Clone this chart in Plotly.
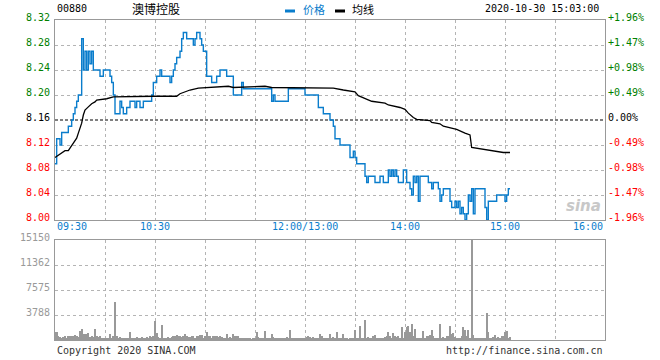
import plotly.graph_objects as go

# ---------------- data ----------------
# x = trading minute counted from 09:30 (lunch break removed, 13:00 = 150)
time_ticks = [0, 60, 150, 210, 270, 330]
time_labels = ["09:30", "10:30", "12:00/13:00", "14:00", "15:00", "16:00"]

prev_close = 8.16
price_ticks = [8.32, 8.28, 8.24, 8.20, 8.16, 8.12, 8.08, 8.04, 8.00]
vol_ticks = [15150, 11362, 7575, 3788]

# price (change points, minute -> price)
price_min = [0, 1, 3, 4, 8, 10, 11, 12, 13, 14, 16, 17, 18, 19, 20, 21, 22, 23, 27, 29,
             33, 34, 35, 36, 39, 40, 41, 43, 45, 48, 49, 51, 53, 58, 59, 61, 63, 64, 69, 70,
             71, 72, 73, 75, 76, 77, 79, 83, 84, 85, 87, 88, 89, 91, 94, 97, 99, 103, 107, 112,
             113, 130, 131, 132, 140, 150, 158, 161, 165, 167, 168, 171, 177, 179, 180, 181, 186, 187, 188, 192,
             195, 197, 200, 201, 202, 203, 204, 205, 206, 209, 211, 213, 214, 215, 216, 217, 218, 219, 224, 226,
             227, 230, 231, 232, 233, 237, 238, 240, 241, 242, 243, 244, 245, 246, 247, 248, 249, 250, 251, 252,
             258, 259, 260, 265, 270, 271, 272, 273]
price_val = [8.09, 8.13, 8.12, 8.14, 8.15, 8.16, 8.17, 8.18, 8.19, 8.20, 8.29, 8.24, 8.27, 8.24, 8.27, 8.25, 8.27, 8.24, 8.23, 8.24,
             8.23, 8.22, 8.20, 8.17, 8.19, 8.18, 8.17, 8.18, 8.19, 8.18, 8.19, 8.18, 8.19, 8.20, 8.22, 8.23, 8.24, 8.23, 8.22, 8.23,
             8.24, 8.25, 8.26, 8.27, 8.29, 8.30, 8.29, 8.28, 8.29, 8.30, 8.29, 8.28, 8.27, 8.23, 8.22, 8.23, 8.24, 8.23, 8.20, 8.22,
             8.21, 8.19, 8.20, 8.19, 8.21, 8.20, 8.18, 8.17, 8.16, 8.15, 8.13, 8.12, 8.10, 8.11, 8.10, 8.09, 8.07, 8.06, 8.07, 8.06,
             8.07, 8.06, 8.08, 8.07, 8.08, 8.07, 8.08, 8.07, 8.06, 8.08, 8.06, 8.05, 8.04, 8.07, 8.06, 8.07, 8.03, 8.07, 8.06, 8.05,
             8.06, 8.05, 8.03, 8.04, 8.05, 8.03, 8.02, 8.03, 8.02, 8.03, 8.01, 8.02, 8.01, 8.00, 8.01, 8.04, 8.03, 8.05, 8.01, 8.05,
             8.02, 8.00, 8.03, 8.04, 8.03, 8.04, 8.05, 8.05]

# average price line (minute -> value)
avg_min = [0, 2, 4, 6, 8, 9, 11, 13, 14, 16, 17, 18, 20, 22, 24, 25, 31, 35, 59, 73,
           75, 78, 81, 86, 91, 104, 107, 126, 130, 166, 167, 173, 180, 182, 186, 190, 198, 200, 207, 210,
           212, 215, 217, 225, 226, 231, 233, 239, 241, 246, 249, 250, 259, 269, 273]
avg_val = [8.100, 8.104, 8.108, 8.111, 8.111, 8.115, 8.122, 8.131, 8.139, 8.155, 8.168, 8.176, 8.181, 8.186, 8.189, 8.192, 8.194, 8.197, 8.198, 8.198,
           8.202, 8.205, 8.208, 8.211, 8.212, 8.214, 8.212, 8.214, 8.212, 8.212, 8.211, 8.208, 8.205, 8.199, 8.194, 8.190, 8.187, 8.184, 8.180, 8.177,
           8.171, 8.164, 8.161, 8.159, 8.156, 8.154, 8.150, 8.147, 8.145, 8.139, 8.136, 8.116, 8.112, 8.108, 8.108]

# volume per minute (minute 0 .. 273)
volume = [1200, 1160, 660, 450, 300, 450, 560, 300, 560, 660,
          560, 560, 810, 660, 500, 1410, 1720, 910, 960, 910,
          1060, 450, 560, 450, 1720, 560, 450, 560, 300, 300,
          300, 300, 300, 960, 300, 560, 5700, 560, 300, 450,
          300, 300, 300, 250, 300, 1160, 300, 250, 300, 450,
          300, 250, 450, 250, 300, 450, 250, 560, 450, 660,
          2830, 1060, 450, 350, 2300, 300, 300, 350, 450, 250,
          450, 660, 560, 710, 560, 660, 450, 560, 960, 660,
          450, 450, 560, 560, 300, 660, 660, 810, 810, 300,
          660, 1160, 560, 660, 250, 560, 660, 560, 450, 560,
          400, 300, 250, 960, 300, 450, 250, 960, 660, 660,
          560, 300, 300, 300, 250, 300, 250, 300, 150, 250,
          200, 1160, 450, 200, 200, 250, 1310, 300, 200, 250,
          960, 450, 300, 300, 250, 300, 300, 250, 300, 400,
          300, 1565, 300, 300, 250, 300, 250, 300, 300, 250,
          300, 450, 660, 450, 250, 450, 250, 300, 250, 960,
          560, 250, 300, 250, 300, 960, 300, 450, 300, 1160,
          300, 300, 250, 960, 300, 250, 150, 300, 250, 300,
          1565, 250, 300, 2070, 300, 250, 2980, 250, 450, 300,
          250, 560, 810, 250, 250, 300, 300, 300, 450, 560,
          1160, 560, 300, 1060, 660, 450, 660, 300, 1920, 300,
          1160, 1970, 2070, 1160, 2470, 660, 1720, 300, 300, 300,
          250, 1310, 300, 660, 560, 810, 1465, 560, 300, 300,
          250, 2470, 300, 450, 300, 660, 660, 2070, 960, 1060,
          450, 300, 300, 300, 560, 1970, 1565, 560, 1465, 300,
          15150, 810, 300, 300, 300, 300, 300, 200, 200, 4090,
          1160, 300, 250, 450, 810, 300, 450, 300, 560, 660,
          1160, 1310, 250, 450]
vol_min = list(range(len(volume)))

# ---------------- style ----------------
BLUE = "#0a7dcc"
GREEN = "#008000"
RED = "#ff0000"
GRID = "#b4b4b4"
BORDER = "#999999"
MONO = "DejaVu Sans Mono"
W, H = 660, 360
L, R, T, B = 55, 55, 20, 20


def py(pix):  # pixel y -> paper y
    return (H - B - pix) / (H - T - B)


def px(pix):  # pixel x -> paper x
    return (pix - L) / (W - L - R)


fig = go.Figure()
fig.add_trace(go.Scatter(x=price_min, y=price_val, mode="lines",
                         line=dict(color=BLUE, width=1.4, shape="hv"),
                         xaxis="x", yaxis="y", hoverinfo="skip"))
fig.add_trace(go.Scatter(x=avg_min, y=avg_val, mode="lines",
                         line=dict(color="#000000", width=1.3),
                         xaxis="x", yaxis="y", hoverinfo="skip"))
fig.add_trace(go.Bar(x=vol_min, y=volume, width=0.6,
                     marker=dict(color="#999999", line=dict(width=0)),
                     xaxis="x2", yaxis="y2", hoverinfo="skip"))

axis_common = dict(showline=True, mirror=True, linecolor=BORDER, linewidth=1,
                   showgrid=True, gridcolor=GRID, griddash="dot", gridwidth=1,
                   zeroline=False, ticks="", showticklabels=False, fixedrange=True)

grid_x = list(range(30, 330, 30))
fig.update_layout(
    width=W, height=H,
    margin=dict(l=L, r=R, t=T, b=B),
    paper_bgcolor="white", plot_bgcolor="white",
    showlegend=False, bargap=0,
    xaxis=dict(domain=[0, 1], range=[0, 330], anchor="y", tickvals=grid_x, **axis_common),
    yaxis=dict(domain=[py(220), 1], range=[8.00, 8.32], anchor="x",
               tickvals=[t for t in price_ticks if t not in (8.32, 8.16, 8.00)], **axis_common),
    xaxis2=dict(domain=[0, 1], range=[0, 330], anchor="y2", tickvals=grid_x, **axis_common),
    yaxis2=dict(domain=[0, py(240)], range=[0, 15150], anchor="x2",
                tickvals=vol_ticks[1:], **axis_common),
)

# prev close dashed line
fig.add_shape(type="line", xref="x", yref="y", x0=0, x1=330, y0=prev_close, y1=prev_close,
              line=dict(color="#000000", width=1.2, dash="3px,2px"), layer="below")

ann = []
# left price labels and right percent labels
for p in price_ticks:
    if p > prev_close + 1e-9:
        col = GREEN
    elif p < prev_close - 1e-9:
        col = RED
    else:
        col = "#000000"
    pct = (p / prev_close - 1) * 100
    pct_txt = "0.00%" if abs(pct) < 1e-9 else ("%+.2f%%" % pct)
    ann.append(dict(x=0, xref="paper", y=p, yref="y", text="%.2f" % p, showarrow=False,
                    xanchor="right", yanchor="middle", xshift=-3, yshift=3,
                    font=dict(family=MONO, size=10, color=col)))
    ann.append(dict(x=1, xref="paper", y=p, yref="y", text=pct_txt, showarrow=False,
                    xanchor="left", yanchor="middle", xshift=1, yshift=3,
                    font=dict(family=MONO, size=10, color=col)))
# volume labels
for v in vol_ticks:
    ann.append(dict(x=0, xref="paper", y=v, yref="y2", text=str(v), showarrow=False,
                    xanchor="right", yanchor="middle", xshift=-3, yshift=3,
                    font=dict(family=MONO, size=10, color="#999999")))
# time labels
for t, lab in zip(time_ticks, time_labels):
    if t == 0:
        xa = "left"
    elif t == 330:
        xa = "right"
    else:
        xa = "center"
    ann.append(dict(x=t, xref="x", y=py(226.5), yref="paper", text=lab, showarrow=False,
                    xanchor=xa, yanchor="middle",
                    font=dict(family=MONO, size=10, color=BLUE)))
# header
ann += [
    dict(x=px(55), y=py(8.5), xref="paper", yref="paper", text="00880", showarrow=False,
         xanchor="left", yanchor="middle", font=dict(family=MONO, size=10, color="#000")),
    dict(x=px(130), y=py(8.5), xref="paper", yref="paper", text="澳博控股", showarrow=False,
         xanchor="left", yanchor="middle", font=dict(family="Noto Sans CJK SC", size=12, color="#000")),
    dict(x=px(301), y=py(8.5), xref="paper", yref="paper", text="价格", showarrow=False,
         xanchor="left", yanchor="middle", font=dict(family="Noto Sans CJK SC", size=11, color=BLUE)),
    dict(x=px(350), y=py(8.5), xref="paper", yref="paper", text="均线", showarrow=False,
         xanchor="left", yanchor="middle", font=dict(family="Noto Sans CJK SC", size=11, color="#000")),
    dict(x=px(601), y=py(8.5), xref="paper", yref="paper", text="2020-10-30 15:03:00", showarrow=False,
         xanchor="right", yanchor="middle", font=dict(family=MONO, size=10, color="#000")),
    dict(x=px(55), y=py(350.5), xref="paper", yref="paper", text="Copyright 2020 SINA.COM", showarrow=False,
         xanchor="left", yanchor="middle", font=dict(family=MONO, size=10, color="#333")),
    dict(x=px(605), y=py(350.5), xref="paper", yref="paper", text="http://finance.sina.com.cn", showarrow=False,
         xanchor="right", yanchor="middle", font=dict(family=MONO, size=10, color="#333")),
    dict(x=px(603), y=py(206), xref="paper", yref="paper", text="sina", showarrow=False,
         xanchor="right", yanchor="middle",
         font=dict(family="DejaVu Sans", size=15, color="#c8c8c8", style="italic", weight="bold")),
]
fig.update_layout(annotations=ann)

# legend swatches
fig.add_shape(type="rect", xref="paper", yref="paper", x0=px(285), x1=px(295), y0=py(12.5), y1=py(9.5),
              fillcolor=BLUE, line=dict(width=0))
fig.add_shape(type="rect", xref="paper", yref="paper", x0=px(335), x1=px(345), y0=py(12.5), y1=py(9.5),
              fillcolor="#000000", line=dict(width=0))

fig.write_html("out.html", config={"displayModeBar": False},
               post_script="document.body.style.margin='0';document.body.style.overflow='hidden';")
